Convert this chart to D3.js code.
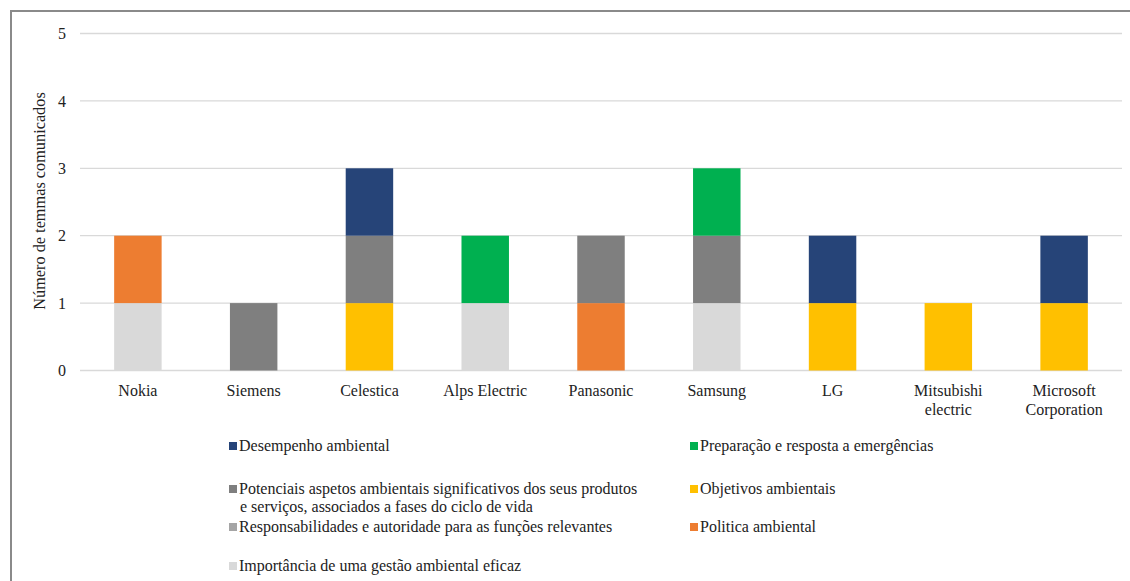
<!DOCTYPE html>
<html>
<head>
<meta charset="utf-8">
<title>Temas comunicados</title>
<style>
	body { margin: 0; background: #fff; }
	svg, svg text, svg tspan { font-family: 'Liberation Serif', 'Times New Roman', Times, 'DejaVu Serif', serif !important; fill: #222; }
</style>
</head>
<body>
<script src="https://d3js.org/d3.v7.min.js"></script>
<script>
	// empresas
	var companies = ["Nokia", "Siemens", "Celestica", "Alps Electric", "Panasonic",
		"Samsung", "LG", "Mitsubishi electric", "Microsoft Corporation"];

	// series, bottom to top of the stack
	var seriesNames = [
		"Importância de uma gestão ambiental eficaz",
		"Politica ambiental",
		"Responsabilidades e autoridade para as funções relevantes",
		"Objetivos ambientais",
		"Potenciais aspetos ambientais significativos dos seus produtos e serviços, associados a fases do ciclo de vida",
		"Preparação e resposta a emergências",
		"Desempenho ambiental"
	];
	var seriesColors = ["#d9d9d9", "#ed7d31", "#a5a5a5", "#ffc000", "#7f7f7f", "#00b050", "#264478"];

	var importancia      = [1, 0, 0, 1, 0, 1, 0, 0, 0];
	var politica         = [1, 0, 0, 0, 1, 0, 0, 0, 0];
	var responsabilidade = [0, 0, 0, 0, 0, 0, 0, 0, 0];
	var objetivos        = [0, 0, 1, 0, 0, 0, 1, 1, 1];
	var potenciais       = [0, 1, 1, 0, 1, 1, 0, 0, 0];
	var preparacao       = [0, 0, 0, 1, 0, 1, 0, 0, 0];
	var desempenho       = [0, 0, 1, 0, 0, 0, 1, 0, 1];

	var yTicks = [0, 1, 2, 3, 4, 5];

	var seriesValues = [importancia, politica, responsabilidade, objetivos, potenciais, preparacao, desempenho];

	var w = 1130, h = 581;
	var svg = d3.select("body").append("svg")
		.attr("width", w)
		.attr("height", h)
		.attr("font-family", "Liberation Serif");

	// frame
	svg.append("path")
		.attr("d", "M11,581 L11,11 L1130,11")
		.attr("fill", "none")
		.attr("stroke", "#8a8a8a")
		.attr("stroke-width", 2);

	var x = d3.scaleBand().domain(companies).range([80, 1122]).paddingInner(0.59).paddingOuter(0.295);
	var y = d3.scaleLinear().domain([0, 5]).range([370.5, 33.5]);

	// grid
	svg.append("g").selectAll("line")
		.data(yTicks)
		.enter().append("line")
			.attr("x1", 80).attr("x2", 1122)
			.attr("y1", function(d) { return y(d); })
			.attr("y2", function(d) { return y(d); })
			.attr("stroke", "#d9d9d9")
			.attr("stroke-width", 1.3);

	// stacked bars
	var table = companies.map(function(c, i) {
		var row = { company: c };
		seriesNames.forEach(function(s, j) { row[s] = seriesValues[j][i]; });
		return row;
	});
	var stack = d3.stack().keys(seriesNames)(table);

	svg.append("g").selectAll("g")
		.data(stack)
		.enter().append("g")
			.attr("fill", function(d, i) { return seriesColors[i]; })
		.selectAll("rect")
		.data(function(d) { return d.filter(function(p) { return p[1] > p[0]; }); })
		.enter().append("rect")
			.attr("x", function(d) { return x(d.data.company); })
			.attr("y", function(d) { return y(d[1]); })
			.attr("width", x.bandwidth())
			.attr("height", function(d) { return y(d[0]) - y(d[1]); });

	// y axis
	var yAxis = svg.append("g")
		.attr("transform", "translate(66,0)")
		.call(d3.axisLeft(y).tickValues(yTicks).tickSize(0).tickPadding(0).tickFormat(d3.format("d")))
		.attr("font-family", null);
	yAxis.select(".domain").remove();
	yAxis.selectAll("text").style("font-size", "16px");

	svg.append("text")
		.attr("transform", "translate(45,201) rotate(-90)")
		.attr("text-anchor", "middle")
		.style("font-size", "16.3px")
		.text("Número de temmas comunicados");

	// x axis
	var xAxis = svg.append("g")
		.attr("transform", "translate(0,371)")
		.call(d3.axisBottom(x).tickSize(0).tickPadding(0))
		.attr("font-family", null);
	xAxis.select(".domain").remove();
	xAxis.selectAll("text").remove();
	xAxis.selectAll(".tick").each(function(d) {
		var words = d.split(" ");
		var lines = words.length > 1 && d.length > 14 ? [words[0], words.slice(1).join(" ")] : [d];
		var t = d3.select(this).append("text")
			.attr("text-anchor", "middle")
			.style("font-size", "16px")
			.style("fill", "#222");
		lines.forEach(function(l, k) {
			t.append("tspan").attr("x", 0).attr("y", 25 + k * 18.5).text(l);
		});
	});

	// legend
	var legendOrder = seriesNames.slice().reverse();
	var colX = [229, 690];
	var rowY = [446, 489, 527, 566];
	legendOrder.forEach(function(name, k) {
		var col = k % 2, row = Math.floor(k / 2);
		var idx = seriesNames.indexOf(name);
		var g = svg.append("g").attr("transform", "translate(" + colX[col] + "," + rowY[row] + ")");
		g.append("rect").attr("x", 0).attr("y", -4).attr("width", 8).attr("height", 8).attr("fill", seriesColors[idx]);
		var lines = name.length > 60
			? ["Potenciais aspetos ambientais significativos dos seus produtos", "e serviços, associados a fases do ciclo de vida"]
			: [name];
		var t = g.append("text").style("font-size", "16px");
		lines.forEach(function(l, i) {
			t.append("tspan").attr("x", i === 0 ? 10 : 11).attr("y", 5 + i * 18).text(l);
		});
	});
</script>
</body>
</html>
